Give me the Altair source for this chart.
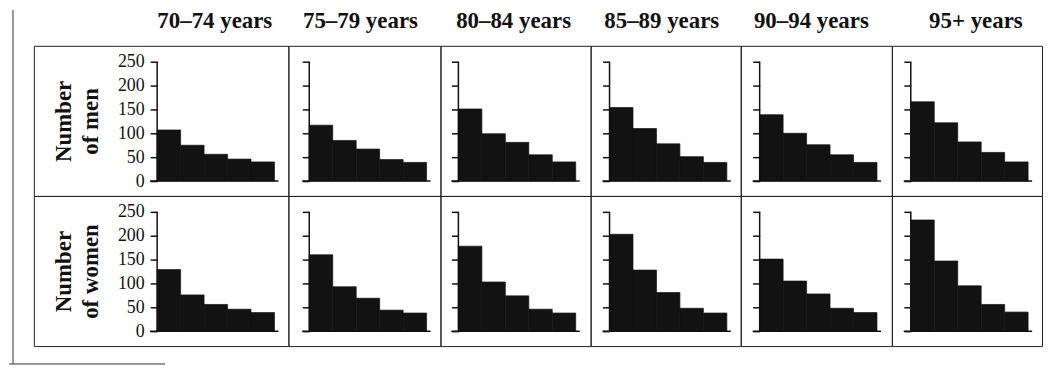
import altair as alt
import pandas as pd

# ---------------- data ----------------
ages = ["70–74 years", "75–79 years", "80–84 years", "85–89 years", "90–94 years", "95+ years"]
bins = [1, 2, 3, 4, 5]

men_70_74 = [107, 75, 56, 46, 40]
men_75_79 = [117, 85, 67, 45, 39]
men_80_84 = [151, 99, 81, 55, 40]
men_85_89 = [154, 110, 78, 51, 39]
men_90_94 = [139, 100, 76, 55, 39]
men_95p = [166, 122, 82, 60, 40]

women_70_74 = [129, 76, 56, 46, 39]
women_75_79 = [160, 93, 69, 44, 38]
women_80_84 = [178, 103, 74, 46, 38]
women_85_89 = [203, 128, 81, 48, 38]
women_90_94 = [151, 105, 78, 48, 39]
women_95p = [233, 147, 95, 56, 40]

men = [men_70_74, men_75_79, men_80_84, men_85_89, men_90_94, men_95p]
women = [women_70_74, women_75_79, women_80_84, women_85_89, women_90_94, women_95p]
row_titles = [["Number", "of men"], ["Number", "of women"]]
y_ticks = [0, 50, 100, 150, 200, 250]

# ---------------- layout ----------------
CELL_W = [256, 153, 151, 151, 152, 151]
AXIS_OFF = [124, 21, 18, 19, 19, 19]
HEAD_DX = [54, -4, -2, -4, -5, 9]
PX_PER_BIN = 23.6
CELL_H = 151
PLOT_TOP = 16
PLOT_H = 120
PX_PER_UNIT = PLOT_H / 250.0
Y_LO = -(CELL_H - PLOT_TOP - PLOT_H) / PX_PER_UNIT
Y_HI = 250 + PLOT_TOP / PX_PER_UNIT

FONT = "Liberation Serif"
INK = "#111111"
BAR = "#121212"


def cell(row, col):
    vals = (men if row == 0 else women)[col]
    df = pd.DataFrame({
        "x0": [b - 1 for b in bins],
        "x1": bins,
        "n": vals,
        "base": [0] * len(bins),
    })
    xs = alt.Scale(domain=[-AXIS_OFF[col] / PX_PER_BIN,
                           (CELL_W[col] - AXIS_OFF[col]) / PX_PER_BIN],
                   nice=False, zero=False)
    ys = alt.Scale(domain=[Y_LO, Y_HI], nice=False, zero=False)

    ax = dict(values=y_ticks, offset=-AXIS_OFF[col], domain=False, grid=False,
              ticks=True, tickSize=7, tickWidth=1.5, tickColor=INK)
    if col == 0:
        ax.update(labels=True, labelFont=FONT, labelFontSize=18, labelColor=INK,
                  labelPadding=6, title=row_titles[row], titleFont=FONT,
                  titleFontSize=23, titleFontWeight="bold", titleColor=INK,
                  titleLineHeight=27, titlePadding=15)
    else:
        ax.update(labels=False, title="")
    yaxis = alt.Axis(**ax)

    bars = alt.Chart(df).mark_rect(color=BAR, stroke=BAR, strokeWidth=0.7).encode(
        x=alt.X("x0:Q", scale=xs, axis=None),
        x2="x1:Q",
        y=alt.Y("n:Q", scale=ys, axis=yaxis),
        y2="base:Q",
    )
    yline = alt.Chart(pd.DataFrame({"x": [0], "y0": [0], "y1": [250]})).mark_rule(
        color=INK, strokeWidth=1.5
    ).encode(
        x=alt.X("x:Q", scale=xs, axis=None),
        y=alt.Y("y0:Q", scale=ys, axis=yaxis),
        y2="y1:Q",
    )
    xline = alt.Chart(pd.DataFrame({"x0": [-0.3], "x1": [5.17], "y": [0]})).mark_rule(
        color=INK, strokeWidth=1.5
    ).encode(
        x=alt.X("x0:Q", scale=xs, axis=None),
        x2="x1:Q",
        y=alt.Y("y:Q", scale=ys, axis=yaxis),
    )
    layers = [bars, yline, xline]

    if row == 1 and col == 0:
        stub = pd.DataFrame({"k": [0]})
        vline = alt.Chart(stub).mark_rule(color="#333333", strokeWidth=1).encode(
            x=alt.value(-21), y=alt.value(-187), y2=alt.value(169))
        hline = alt.Chart(stub).mark_rule(color="#333333", strokeWidth=1).encode(
            x=alt.value(-25), x2=alt.value(132), y=alt.value(169))
        layers += [vline, hline]

    props = dict(width=CELL_W[col], height=CELL_H)
    if row == 0:
        props["title"] = alt.Title(
            text=ages[col], font=FONT, fontSize=23, fontWeight="bold",
            color=INK, anchor="middle", frame="group", dx=HEAD_DX[col],
            offset=-5, baseline="alphabetic")
    return alt.layer(*layers).properties(**props)


cells = [cell(r, c) for r in range(2) for c in range(6)]

chart = alt.concat(*cells, columns=6, spacing=0, bounds="flush").properties(
    padding={"left": 0, "top": 0, "right": 4, "bottom": 0}
).configure_view(stroke="#222222", strokeWidth=1)

chart.save("out.html", embed_options={"renderer": "svg", "actions": False})
